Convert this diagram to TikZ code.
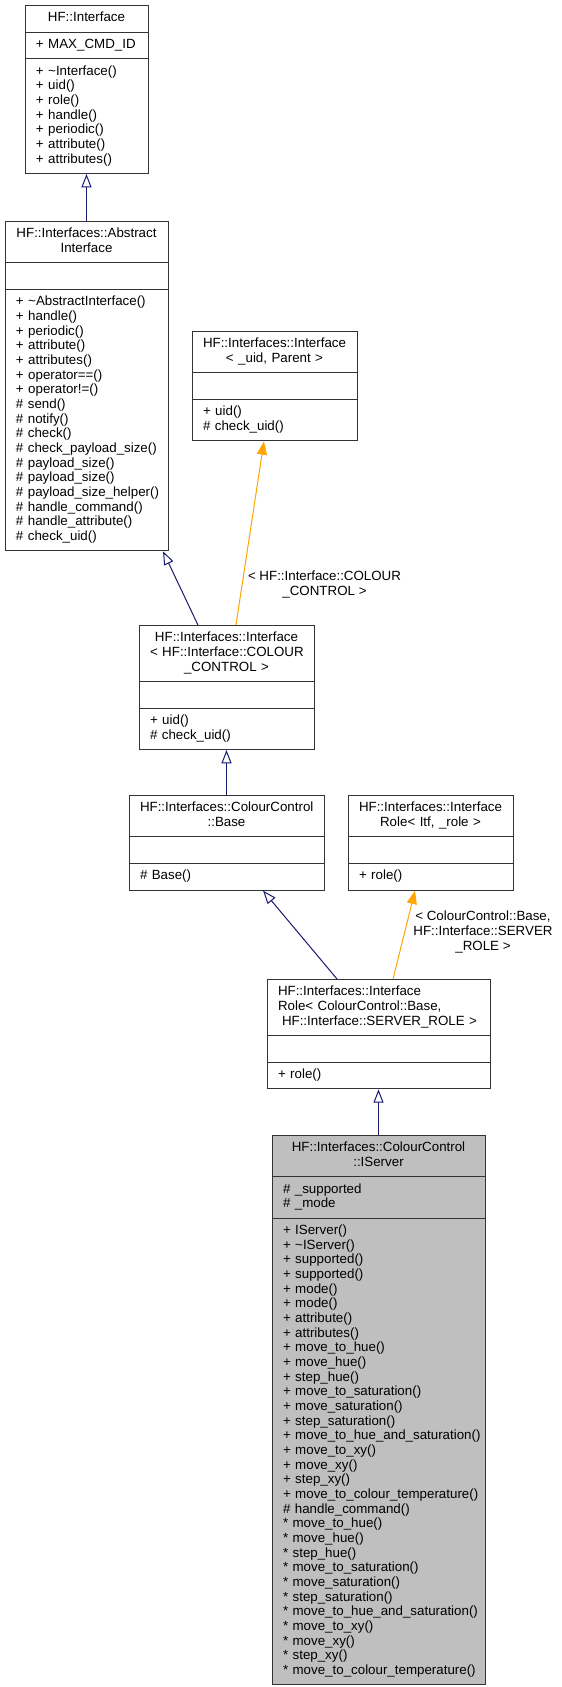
\documentclass[tikz,border=0pt]{standalone}
\usepackage{fontspec}
\setmainfont{Liberation Sans}
\usepackage{xcolor}
\usepackage{tikz}
\usetikzlibrary{shapes,arrows.meta}
\definecolor{edgeblue}{HTML}{191970}
\definecolor{tplorange}{HTML}{FFA500}
\definecolor{selgray}{HTML}{BFBFBF}
\hyphenpenalty=10000
\tikzset{cls/.style={rectangle split,rectangle split parts=3,draw=black!80,line width=0.75pt,inner xsep=8.25pt,inner ysep=4.125pt,font=\fontsize{10}{11}\selectfont,anchor=north}}
\tikzset{lbl/.style={align=center,inner sep=0pt,font=\fontsize{10}{11}\selectfont}}
\tikzset{inh/.style={-{Triangle[open,length=10pt,width=7.5pt]},edgeblue,line width=0.75pt}}
\tikzset{tpl/.style={-{Triangle[length=10pt,width=7.5pt]},tplorange,line width=0.75pt}}

\begin{document}
\begin{tikzpicture}[x=0.75pt,y=-0.75pt]
        \useasboundingbox (0,0) rectangle (561,1687);
        \node[cls,text width=75.75pt] (b1) at (86.5,5) {\centering\strut HF::Interface\strut\par
            \nodepart{two}\strut +~MAX\_CMD\_ID\strut
            \nodepart{three}\strut +~\textasciitilde Interface()\\+~uid()\\+~role()\\+~handle()\\+~periodic()\\+~attribute()\\+~attributes()\strut};
        \node[cls,text width=105.75pt] (b2) at (86.5,221) {\centering\strut HF::Interfaces::Abstract\\Interface\strut\par
            \nodepart{two}\strut
            \nodepart{three}\strut +~\textasciitilde AbstractInterface()\\+~handle()\\+~periodic()\\+~attribute()\\+~attributes()\\+~operator==()\\+~operator!=()\\\#~send()\\\#~notify()\\\#~check()\\\#~check\_payload\_size()\\\#~payload\_size()\\\#~payload\_size()\\\#~payload\_size\_helper()\\\#~handle\_command()\\\#~handle\_attribute()\\\#~check\_uid()\strut};
        \node[cls,text width=107.25pt] (b3) at (274.5,331) {\centering\strut HF::Interfaces::Interface\\<~\_uid, Parent~>\strut\par
            \nodepart{two}\strut
            \nodepart{three}\strut +~uid()\\\#~check\_uid()\strut};
        \node[cls,text width=114.75pt] (b4) at (226.5,625) {\centering\strut HF::Interfaces::Interface\\<~HF::Interface::COLOUR\\\_CONTROL~>\strut\par
            \nodepart{two}\strut
            \nodepart{three}\strut +~uid()\\\#~check\_uid()\strut};
        \node[cls,text width=129.75pt] (b5) at (226.5,795) {\centering\strut HF::Interfaces::ColourControl\\::Base\strut\par
            \nodepart{two}\strut
            \nodepart{three}\strut \#~Base()\strut};
        \node[cls,text width=107.25pt] (b6) at (430.5,795) {\centering\strut HF::Interfaces::Interface\\Role<~Itf,~\_role~>\strut\par
            \nodepart{two}\strut
            \nodepart{three}\strut +~role()\strut};
        \node[cls,text width=150.75pt] (b7) at (378.5,979) {\strut HF::Interfaces::Interface\\Role<~ColourControl::Base,\\\hspace*{3pt}HF::Interface::SERVER\_ROLE~>\strut
            \nodepart{two}\strut
            \nodepart{three}\strut +~role()\strut};
        \node[cls,fill=selgray,text width=143.25pt] (b8) at (378.5,1135) {\centering\strut HF::Interfaces::ColourControl\\::IServer\strut\par
            \nodepart{two}\strut \#~\_supported\\\#~\_mode\strut
            \nodepart{three}\strut +~IServer()\\+~\textasciitilde IServer()\\+~supported()\\+~supported()\\+~mode()\\+~mode()\\+~attribute()\\+~attributes()\\+~move\_to\_hue()\\+~move\_hue()\\+~step\_hue()\\+~move\_to\_saturation()\\+~move\_saturation()\\+~step\_saturation()\\+~move\_to\_hue\_and\_saturation()\\+~move\_to\_xy()\\+~move\_xy()\\+~step\_xy()\\+~move\_to\_colour\_temperature()\\\#~handle\_command()\\{}*~move\_to\_hue()\\{}*~move\_hue()\\{}*~step\_hue()\\{}*~move\_to\_saturation()\\{}*~move\_saturation()\\{}*~step\_saturation()\\{}*~move\_to\_hue\_and\_saturation()\\{}*~move\_to\_xy()\\{}*~move\_xy()\\{}*~step\_xy()\\{}*~move\_to\_colour\_temperature()\strut};
        \node[lbl] (l1) at (324.5,584.5) {<~HF::Interface::COLOUR\\\_CONTROL~>};
        \node[lbl] (l2) at (483,932) {<~ColourControl::Base,\\HF::Interface::SERVER\\\_ROLE~>};

        \draw [inh] (b2.north) to [] (b1.south);
        \draw [inh] ([xshift=-21.4pt]b4.north) to [] ([xshift=57.4pt]b2.south);
        \draw [tpl] ([xshift=7.1pt]b4.north) to [] ([xshift=-7.9pt]b3.south);
        \draw [inh] (b5.north) to [] (b4.south);
        \draw [inh] ([xshift=-31.1pt]b7.north) to [] ([xshift=27.4pt]b5.south);
        \draw [tpl] ([xshift=10.9pt]b7.north) to [] ([xshift=-11.6pt]b6.south);
        \draw [inh] (b8.north) to [] (b7.south);
    \end{tikzpicture}
\end{document}
